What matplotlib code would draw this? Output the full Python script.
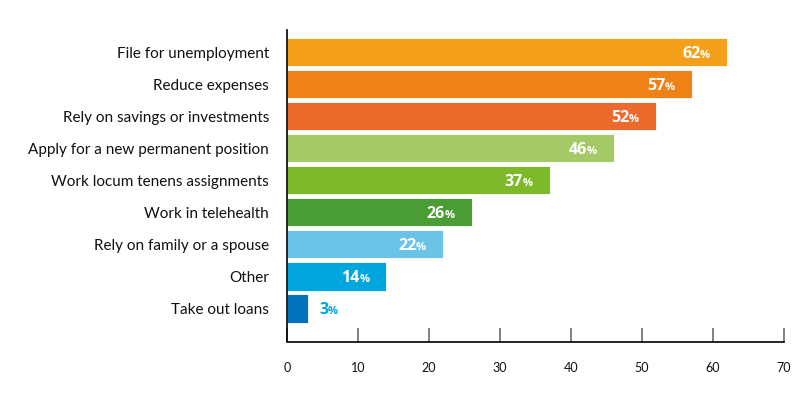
import matplotlib
matplotlib.use('Agg')
import matplotlib.pyplot as plt
import matplotlib.transforms as mtrans

categories = ['File for unemployment', 'Reduce expenses', 'Rely on savings or investments',
              'Apply for a new permanent position', 'Work locum tenens assignments',
              'Work in telehealth', 'Rely on family or a spouse', 'Other', 'Take out loans']
values = [62, 57, 52, 46, 37, 26, 22, 14, 3]
colors = ['#F5A01A', '#EE8217', '#EC6A2C', '#A5C965', '#7DB928', '#4A9C34',
          '#6BC4E8', '#00A7DF', '#0071BB']
xticks = [0, 10, 20, 30, 40, 50, 60, 70]

plt.rcParams['font.family'] = ['Lato', 'DejaVu Sans']
numfont = ['Open Sans', 'DejaVu Sans']

fig = plt.figure(figsize=(8.1, 3.96), dpi=100)
ax = fig.add_axes([287/810, 1-341.5/396, 497/810, 311.5/396])

y = list(range(len(categories)))
ax.barh(y, values, height=0.88, color=colors, edgecolor='white', linewidth=0.6)
ax.set_ylim(9.03, -0.69)
ax.set_xlim(0, 70)
ax.set_xticks(xticks)
ax.set_yticks(y)
ax.set_yticklabels(categories, fontsize=11, color='#111111')
ax.tick_params(axis='y', length=0, pad=13)
ax.tick_params(axis='x', direction='in', length=10, width=1.3, color='#777777',
               pad=15, labelsize=9, labelcolor='#111111')
for s in ['top', 'right']:
    ax.spines[s].set_visible(False)
for s in ['left', 'bottom']:
    ax.spines[s].set_linewidth(1.2)
    ax.spines[s].set_color('black')

fig.canvas.draw()
r = fig.canvas.get_renderer()
base = -5.5  # shift so the baseline sits under the bar centre
for i, v in enumerate(values):
    inside = v > 5
    col = 'white' if inside else '#00A7DF'
    if inside:
        off = mtrans.offset_copy(ax.transData, fig=fig, x=-17, y=base, units='dots')
        pct = ax.text(v, i, '%', transform=off, ha='right', va='baseline', fontsize=8,
                      fontweight='bold', color=col, family=numfont)
        w = pct.get_window_extent(r).width
        off2 = mtrans.offset_copy(ax.transData, fig=fig, x=-17 - w + 0.5, y=base, units='dots')
        ax.text(v, i, str(v), transform=off2, ha='right', va='baseline', fontsize=11.5,
                fontweight='bold', color=col, family=numfont)
    else:
        off = mtrans.offset_copy(ax.transData, fig=fig, x=11, y=base, units='dots')
        num = ax.text(v, i, str(v), transform=off, ha='left', va='baseline', fontsize=11.5,
                      fontweight='bold', color=col, family=numfont)
        w = num.get_window_extent(r).width
        off2 = mtrans.offset_copy(ax.transData, fig=fig, x=11 + w - 0.5, y=base, units='dots')
        ax.text(v, i, '%', transform=off2, ha='left', va='baseline', fontsize=8,
                fontweight='bold', color=col, family=numfont)

fig.savefig('out.png', dpi=100)
